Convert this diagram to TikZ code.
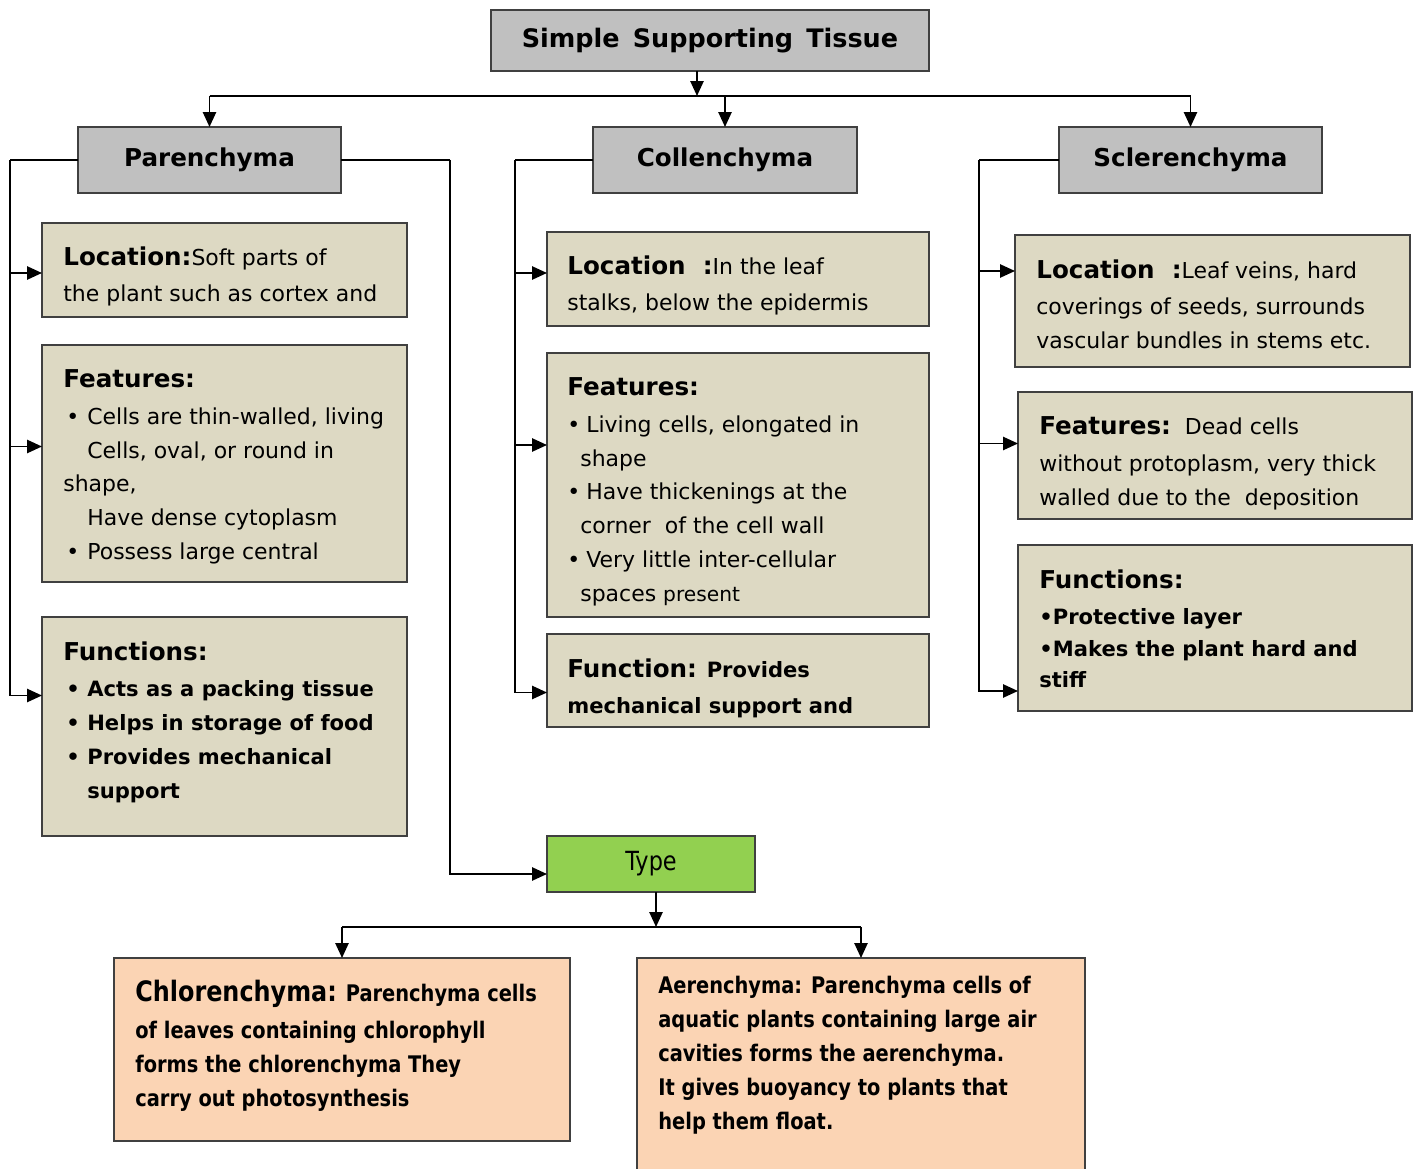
\documentclass[tikz,border=0pt]{standalone}
\usepackage{fontspec}
\setmainfont{DejaVu Sans}
\newfontfamily\narrowfont[FakeStretch=0.85]{DejaVu Sans}
\usetikzlibrary{arrows.meta}
\definecolor{boxgray}{HTML}{C0C0C0}
\definecolor{boxtan}{HTML}{DDD9C3}
\definecolor{boxpeach}{HTML}{FBD4B4}
\definecolor{boxgreen}{HTML}{92D050}
\def\hd#1{{\fontsize{14}{19}\selectfont\bfseries #1}}
\def\bul{\makebox[0.48cm][l]{\hspace{0.06cm}\textbullet}}
\def\ind{\makebox[0.48cm]{}}
\def\cbul{\makebox[0.38cm][l]{\textbullet}}
\def\cind{\makebox[0.26cm]{}}
\newcommand\panel[7][]{\node[box,#1,minimum width={(#5-#3)*0.02cm},minimum height={(#6-#4)*0.02cm}] (#2) at (#3,#4) {#7};}
\tikzset{
  box/.style={draw=black!75, line width=1.2pt, anchor=north west, inner sep=0pt, outer sep=0pt},
  txt/.style={anchor=north west, align=left, inner sep=0pt, font=\fontsize{12.5}{19.3}\selectfont},
  txtb/.style={txt, font=\fontsize{12}{19.3}\selectfont\bfseries},
  txtc/.style={txt, font=\narrowfont\fontsize{13}{19.3}\selectfont\bfseries},
  title/.style={fill=boxgray, font=\fontsize{14}{17}\selectfont\bfseries},
  link/.style={line width=1.1pt},
  arr/.style={link, -{Triangle[length=8.5pt,width=7.5pt]}}
}

\begin{document}
\begin{tikzpicture}[x=0.02cm, y=-0.02cm]
		%%%%% START %%%%%
		\useasboundingbox (0,0) rectangle (1421,1169);

		% headings
		\panel[title, font=\fontsize{14.5}{18}\selectfont\bfseries]{sst}{491}{10}{929}{71}{Simple\ \,Supporting\ \,Tissue}
		\panel[title]{par}{78}{127}{341}{193}{Parenchyma}
		\panel[title]{col}{593}{127}{857}{193}{Collenchyma}
		\panel[title]{scl}{1059}{127}{1322}{193}{Sclerenchyma}

		\coordinate (hub) at (697,96);
		\draw[arr] (sst.south -| hub) -- (hub);
		\draw[link] (hub -| par.north) -- (hub -| scl.north);
		\draw[arr] (hub -| par.north) -- (par.north);
		\draw[arr] (hub -| col.north) -- (col.north);
		\draw[arr] (hub -| scl.north) -- (scl.north);

		% parenchyma
		\panel[fill=boxtan]{ploc}{42}{223}{407}{317}{}
		\panel[fill=boxtan]{pfea}{42}{345}{407}{582}{}
		\panel[fill=boxtan]{pfun}{42}{617}{407}{836}{}
		\node[txt] (ploc-t) at ([shift={(21,23)}]ploc.north west)
			{\hd{Location:}Soft parts of\\[1.7pt]the plant such as cortex and};
		\node[txt] (pfea-t) at ([shift={(21,24)}]pfea.north west)
			{\hd{Features:}\\[1.7pt]\bul Cells are thin-walled, living\\\ind Cells, oval, or round in\\shape,\\\ind Have dense cytoplasm\\\bul Possess large central};
		\node[txtb] (pfun-t) at ([shift={(21,24)}]pfun.north west)
			{\hd{Functions:}\\[1.7pt]\bul Acts as a packing tissue\\\bul Helps in storage of food\\\bul Provides mechanical\\\ind support};

		\draw[link] (par.west) -- ++(-68,0) coordinate (pl);
		\draw[link] (par.east) -- ++(109,0) coordinate (pr);
		\draw[arr] (pl) |- ([shift={(0,3)}]ploc.west);
		\draw[arr] (pl) |- ([shift={(0,-17)}]pfea.west);
		\draw[arr] (pl) |- ([shift={(0,-31)}]pfun.west);

		% collenchyma
		\panel[fill=boxtan]{cloc}{547}{232}{929}{326}{}
		\panel[fill=boxtan]{cfea}{547}{353}{929}{617}{}
		\panel[fill=boxtan]{cfun}{547}{634}{929}{727}{}
		\node[txt] (cloc-t) at ([shift={(20,23)}]cloc.north west)
			{\hd{Location\ \ :}In the leaf\\[1.7pt]stalks, below the epidermis};
		\node[txt] (cfea-t) at ([shift={(20,24)}]cfea.north west)
			{\hd{Features:}\\[1.7pt]\cbul Living cells, elongated in\\\cind shape\\\cbul Have thickenings at the\\\cind corner\ \ of the cell wall\\\cbul Very little inter-cellular\\\cind spaces {\fontsize{11.5}{19}\selectfont present}};
		\node[txtb] (cfun-t) at ([shift={(20,24)}]cfun.north west)
			{\hd{Function:} Provides\\[1.7pt]mechanical support and};

		\draw[link] (col.west) -- ++(-78,0) coordinate (cl);
		\draw[arr] (cl) |- ([shift={(0,-6)}]cloc.west);
		\draw[arr] (cl) |- ([shift={(0,-40)}]cfea.west);
		\draw[arr] (cl) |- ([shift={(0,12)}]cfun.west);

		% sclerenchyma
		\panel[fill=boxtan]{sloc}{1015}{235}{1410}{367}{}
		\panel[fill=boxtan]{sfea}{1018}{392}{1412}{519}{}
		\panel[fill=boxtan]{sfun}{1018}{545}{1412}{711}{}
		\node[txt] (sloc-t) at ([shift={(21,24)}]sloc.north west)
			{\hd{Location\ \ :}Leaf veins, hard\\[1.7pt]coverings of seeds, surrounds\\vascular bundles in stems etc.};
		\node[txt] (sfea-t) at ([shift={(21,24)}]sfea.north west)
			{\hd{Features:}\ \ Dead cells\\[1.7pt]without protoplasm, very thick\\walled due to the\ \ deposition};
		\node[txtb] (sfun-t) at ([shift={(21,24)}]sfun.north west)
			{\hd{Functions:}\\[1.7pt]\textbullet Protective layer\\[-1.5pt]\textbullet Makes the plant hard and\\[-1.5pt]stiff};

		\draw[link] (scl.west) -- ++(-80,0) coordinate (sl);
		\draw[arr] (sl) |- ([shift={(0,-30)}]sloc.west);
		\draw[arr] (sl) |- ([shift={(0,-12)}]sfea.west);
		\draw[arr] (sl) |- ([shift={(0,63)}]sfun.west);

		% type
		\panel[fill=boxgreen, font=\narrowfont\fontsize{15}{18}\selectfont]{type}{547}{836}{755}{892}{Type}
		\draw[arr] (pr) |- ([shift={(0,10)}]type.west);

		\panel[fill=boxpeach]{chl}{114}{958}{570}{1141}{}
		\panel[fill=boxpeach]{aer}{637}{958}{1085}{1180}{}
		\node[txtc] (chl-t) at ([shift={(21,22)}]chl.north west)
			{{\fontsize{16}{19}\selectfont Chlorenchyma:} Parenchyma cells\\[1.5pt]of leaves containing chlorophyll\\forms the chlorenchyma They\\carry out photosynthesis};
		\node[txtc] (aer-t) at ([shift={(21,18)}]aer.north west)
			{Aerenchyma: Parenchyma cells of\\aquatic plants containing large air\\cavities forms the aerenchyma.\\It gives buoyancy to plants that\\help them float.};

		\coordinate (thub) at (656,927);
		\draw[arr] (type.south -| thub) -- (thub);
		\draw[link] (thub -| chl.north) -- (thub -| aer.north);
		\draw[arr] (thub -| chl.north) -- (chl.north);
		\draw[arr] (thub -| aer.north) -- (aer.north);

		%%%%% END %%%%%
\end{tikzpicture}
\end{document}
